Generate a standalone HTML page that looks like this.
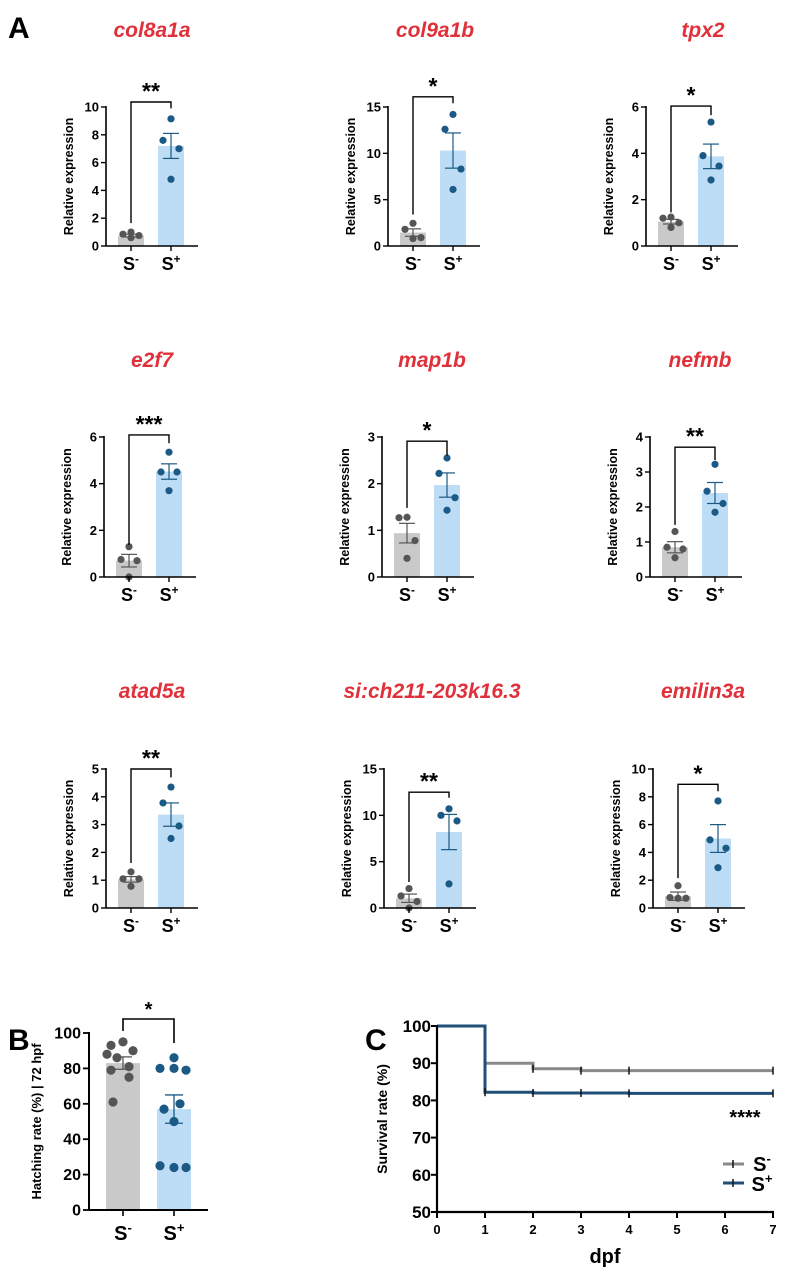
<!DOCTYPE html>
<html><head><meta charset="utf-8"><style>
html,body{margin:0;padding:0;background:#fff;}
svg{display:block;font-family:"Liberation Sans",Arial,sans-serif;}
</style></head><body>
<svg id="fig" width="786" height="1276" viewBox="0 0 786 1276" xmlns="http://www.w3.org/2000/svg">
<text x="8" y="38" font-size="30" font-weight="bold">A</text>
<text x="8" y="1050" font-size="30" font-weight="bold">B</text>
<text x="365" y="1050" font-size="30" font-weight="bold">C</text>
</svg>
<script>
// ---- Panel A data ----
const geneNames = ["col8a1a","col9a1b","tpx2","e2f7","map1b","nefmb","atad5a","si:ch211-203k16.3","emilin3a"];
const yMaxes = [10,15,6,6,3,4,5,15,10];
const tickSteps = [2,5,2,2,1,1,1,5,2];
const meansMinus = [0.75,1.45,1.05,0.7,0.94,0.85,1.03,1.05,0.85];
const meansPlus = [7.2,10.3,3.87,4.52,1.97,2.4,3.36,8.2,5.0];
const semMinus = [0.1,0.4,0.1,0.27,0.21,0.16,0.1,0.45,0.3];
const semPlus = [0.9,1.9,0.53,0.33,0.26,0.3,0.42,1.9,1.0];
const pointsMinus = [[1.0,0.85,0.75,0.6],[2.45,1.8,0.9,0.8],[1.25,1.2,1.0,0.8],[1.3,0.75,0.7,0.0],[1.28,1.27,0.78,0.4],[1.3,0.85,0.8,0.55],[1.3,1.05,1.05,0.78],[2.1,1.3,0.7,0.0],[1.6,0.75,0.7,0.7]];
const pointsPlus = [[9.15,7.6,7.0,4.8],[14.2,12.6,8.3,6.1],[5.35,3.9,3.45,2.85],[5.35,4.5,4.5,3.7],[2.55,2.22,1.7,1.43],[3.22,2.45,2.1,1.85],[4.35,3.78,2.95,2.5],[10.7,10.0,9.4,2.6],[7.7,4.9,4.3,2.9]];
const starLabels = ["**","*","*","***","*","**","**","**","*"];
const bracketTop = [10.36,16.1,6.04,6.09,2.91,3.71,5.0,12.5,8.9];
const bracketLeftEnd = [1.65,3.4,1.45,1.37,1.48,1.49,1.62,2.8,2.15];
const bracketRightEnd = [9.9,15.4,5.65,5.74,2.6,3.34,4.7,11.9,8.4];
// layout (not data)
const axisXs = [106,388,646,104,382,650,106,384,653];
const rowTop = [107,437,769];
const rowBottom = [246,577,908];
const titleXs = [152,435,703,152,432,700,152,432,703];
const titleYs = [37,367,698];

// ---- Panel B data ----
const hatchCats = ["S-","S+"];
const hatchMeans = [83,57];
const hatchSem = [3.5,8];
const hatchMinusPts = [95,93,90,88,86,81,79,75,61];
const hatchPlusPts = [86,80,80,79,60,57,50,25,24,24];
const hatchTicks = [0,20,40,60,80,100];

// ---- Panel C data ----
const survDays = [0,1,2,3,4,7];
const survMinus = [100,90,88.5,88,88,88];
const survPlus = [100,82.2,82,82,81.9,81.9];
const survYTicks = [50,60,70,80,90,100];
const survXTicks = [0,1,2,3,4,5,6,7];

const NS="http://www.w3.org/2000/svg";
const svg=document.getElementById('fig');
function mk(tag,attrs,parent){const e=document.createElementNS(NS,tag);for(const k in attrs)e.setAttribute(k,attrs[k]);(parent||svg).appendChild(e);return e;}
function txt(s,attrs,parent){const e=mk('text',attrs,parent);e.textContent=s;return e;}
function sLabel(g,x,y,sign,size){const t=mk('text',{x:x,y:y,'font-size':size,'font-weight':'bold','text-anchor':'middle'},g);t.textContent='S';const ts=document.createElementNS(NS,'tspan');ts.setAttribute('dy',-size*0.4);ts.setAttribute('font-size',size*0.65);ts.textContent=sign;t.appendChild(ts);return t;}

const GRAY='#c9c9c9',BLUE='#bddcf5',DG='#555555',DB='#1c5a86';
const offs4=[0,-8,8,0];

for(let i=0;i<9;i++){
  const row=Math.floor(i/3);
  const ax=axisXs[i],top=rowTop[row],bot=rowBottom[row],ymax=yMaxes[i];
  const y=v=>bot-(v/ymax)*(bot-top);
  const g=mk('g',{});
  
  
  const t=txt(geneNames[i],{x:titleXs[i],y:titleYs[row],'font-size':21,'font-weight':'bold','font-style':'italic',fill:'#e0303a','text-anchor':'middle'},g);
  
  
  const cx=[ax+25,ax+65];
  const means=[meansMinus[i],meansPlus[i]],sems=[semMinus[i],semPlus[i]],pts=[pointsMinus[i],pointsPlus[i]];
  for(let b=0;b<2;b++){
    const bar=mk('rect',{x:cx[b]-13,y:y(means[b]),width:26,height:bot-y(means[b]),fill:b?BLUE:GRAY},g);
    
    
    const col=b?DB:DG;
    pts[b].forEach((v,k)=>{const c=mk('circle',{cx:cx[b]+offs4[k%4],cy:y(v),r:3.6,fill:col},g);
      
      });
    const lo=y(means[b]-sems[b]),hi=y(means[b]+sems[b]);
    mk('line',{x1:cx[b],x2:cx[b],y1:lo,y2:hi,stroke:col,'stroke-width':1.2},g);
    mk('line',{x1:cx[b]-8,x2:cx[b]+8,y1:lo,y2:lo,stroke:col,'stroke-width':1.2},g);
    mk('line',{x1:cx[b]-8,x2:cx[b]+8,y1:hi,y2:hi,stroke:col,'stroke-width':1.2},g);
    sLabel(g,cx[b],bot+24,b?'+':'-',18);
  }
  mk('line',{x1:ax,x2:ax,y1:top-1,y2:bot,stroke:'#000','stroke-width':1.6},g);
  mk('line',{x1:ax,x2:ax+92,y1:bot,y2:bot,stroke:'#000','stroke-width':1.6},g);
  for(let b=0;b<2;b++)mk('line',{x1:cx[b],x2:cx[b],y1:bot,y2:bot+5,stroke:'#000','stroke-width':1.4},g);
  for(let v=0;v<=ymax+1e-9;v+=tickSteps[i]){
    mk('line',{x1:ax-5,x2:ax,y1:y(v),y2:y(v),stroke:'#000','stroke-width':1.4},g);
    const tl=txt(String(v),{x:ax-7,y:y(v)+4.5,'font-size':13,'font-weight':'bold','text-anchor':'end'},g);
    
    
  }
  const yl=txt('Relative expression',{x:0,y:0,'font-size':12.5,'font-weight':'bold','text-anchor':'middle',transform:`translate(${ax-33},${(top+bot)/2}) rotate(-90)`},g);
  
  
  const by=y(bracketTop[i]);
  mk('polyline',{points:`${cx[0]},${y(bracketLeftEnd[i])} ${cx[0]},${by} ${cx[1]},${by} ${cx[1]},${y(bracketRightEnd[i])}`,fill:'none',stroke:'#000','stroke-width':1.4},g);
  const st=txt(starLabels[i],{x:(cx[0]+cx[1])/2,y:by-3,'font-size':23,'font-weight':'bold','text-anchor':'middle'},g);
  
  
}

// ---- Panel B ----
(function(){
  const ax=89,top=1033,bot=1210,ymax=100;
  const y=v=>bot-(v/ymax)*(bot-top);
  const g=mk('g',{});
  
  
  const cx=[123,174];
  const allPts=[hatchMinusPts,hatchPlusPts];
  const jit=[[0,-12,10,-16,-6,6,-12,6,-10],[0,-14,0,12,6,-10,0,-14,0,12]];
  for(let b=0;b<2;b++){
    const bar=mk('rect',{x:cx[b]-17,y:y(hatchMeans[b]),width:34,height:bot-y(hatchMeans[b]),fill:b?BLUE:GRAY},g);
    
    
    const col=b?DB:DG;
    allPts[b].forEach((v,k)=>{const c=mk('circle',{cx:cx[b]+jit[b][k%jit[b].length],cy:y(v),r:4.6,fill:col},g);
      
      });
    const lo=y(hatchMeans[b]-hatchSem[b]),hi=y(hatchMeans[b]+hatchSem[b]);
    mk('line',{x1:cx[b],x2:cx[b],y1:lo,y2:hi,stroke:col,'stroke-width':1.3},g);
    mk('line',{x1:cx[b]-9,x2:cx[b]+9,y1:lo,y2:lo,stroke:col,'stroke-width':1.3},g);
    mk('line',{x1:cx[b]-9,x2:cx[b]+9,y1:hi,y2:hi,stroke:col,'stroke-width':1.3},g);
    sLabel(g,cx[b],bot+30,b?'+':'-',20);
    mk('line',{x1:cx[b],x2:cx[b],y1:bot,y2:bot+6,stroke:'#000','stroke-width':1.6},g);
  }
  mk('line',{x1:ax,x2:ax,y1:top-1,y2:bot,stroke:'#000','stroke-width':2},g);
  mk('line',{x1:ax,x2:208,y1:bot,y2:bot,stroke:'#000','stroke-width':2},g);
  hatchTicks.forEach(v=>{
    mk('line',{x1:ax-6,x2:ax,y1:y(v),y2:y(v),stroke:'#000','stroke-width':1.8},g);
    const tl=txt(String(v),{x:ax-8,y:y(v)+5.5,'font-size':16,'font-weight':'bold','text-anchor':'end'},g);
    
    
  });
  const yl=txt('Hatching rate (%) | 72 hpf',{x:0,y:0,'font-size':13,'font-weight':'bold','text-anchor':'middle',transform:`translate(41,${(top+bot)/2}) rotate(-90)`},g);
  
  
  mk('polyline',{points:`${cx[0]},1031 ${cx[0]},1019 ${cx[1]},1019 ${cx[1]},1043`,fill:'none',stroke:'#000','stroke-width':1.6},g);
  const st=txt('*',{x:(cx[0]+cx[1])/2,y:1016,'font-size':20,'font-weight':'bold','text-anchor':'middle'},g);
  
  
})();

// ---- Panel C ----
(function(){
  const x0=437,x1=773,top=1026,bot=1212;
  const x=d=>x0+(d/7)*(x1-x0);
  const y=v=>bot-((v-50)/50)*(bot-top);
  const g=mk('g',{});
  
  
  function step(vals,col,name){
    let p=`${x(survDays[0])},${y(vals[0])}`;
    for(let k=1;k<survDays.length;k++){p+=` ${x(survDays[k])},${y(vals[k-1])} ${x(survDays[k])},${y(vals[k])}`;}
    const l=mk('polyline',{points:p,fill:'none',stroke:col,'stroke-width':3},g);
    
    
    for(let k=1;k<survDays.length;k++){mk('line',{x1:x(survDays[k]),x2:x(survDays[k]),y1:y(vals[k])-4,y2:y(vals[k])+4,stroke:'#111','stroke-width':1.5},g);}
  }
  step(survMinus,'#8a8a8a','survival-line-s-minus');
  step(survPlus,'#1f4f78','survival-line-s-plus');
  mk('line',{x1:x0,x2:x0,y1:top-1,y2:bot,stroke:'#000','stroke-width':2.2},g);
  mk('line',{x1:x0,x2:x1+1,y1:bot,y2:bot,stroke:'#000','stroke-width':2.2},g);
  survYTicks.forEach(v=>{
    mk('line',{x1:x0-6,x2:x0,y1:y(v),y2:y(v),stroke:'#000','stroke-width':2},g);
    const tl=txt(String(v),{x:x0-6,y:y(v)+6,'font-size':17,'font-weight':'bold','text-anchor':'end'},g);
    
    
  });
  survXTicks.forEach(v=>{
    mk('line',{x1:x(v),x2:x(v),y1:bot,y2:bot+6,stroke:'#000','stroke-width':2},g);
    const tl=txt(String(v),{x:x(v),y:bot+22,'font-size':13,'font-weight':'bold','text-anchor':'middle'},g);
    
    
  });
  const yl=txt('Survival rate (%)',{x:0,y:0,'font-size':14,'font-weight':'bold','text-anchor':'middle',transform:`translate(387,${(top+bot)/2}) rotate(-90)`},g);
  
  
  const xl=txt('dpf',{x:605,y:1263,'font-size':20,'font-weight':'bold','text-anchor':'middle'},g);
  
  
  const st=txt('****',{x:745,y:1124,'font-size':20,'font-weight':'bold','text-anchor':'middle'},g);
  
  
  const leg=mk('g',{},g);
  
  
  mk('line',{x1:723,x2:744,y1:1164,y2:1164,stroke:'#8a8a8a','stroke-width':3},leg);
  mk('line',{x1:733,x2:733,y1:1160,y2:1168,stroke:'#111','stroke-width':1.5},leg);
  mk('line',{x1:723,x2:744,y1:1183,y2:1183,stroke:'#1f4f78','stroke-width':3},leg);
  mk('line',{x1:733,x2:733,y1:1179,y2:1187,stroke:'#111','stroke-width':1.5},leg);
  sLabel(leg,762,1171,'-',20);
  sLabel(leg,762,1191,'+',20);
})();
</script>
</body></html>
